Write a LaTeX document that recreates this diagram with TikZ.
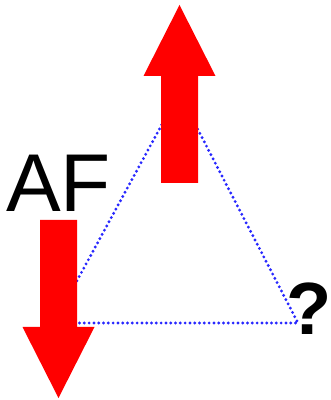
\documentclass[tikz,border=0pt]{standalone}
\usepackage{fontspec}
\setmainfont{Liberation Sans}
\usepackage{tikz}
\usetikzlibrary{positioning,calc}

% one fat red spin arrow; #1 = centre x, #2 = base y, #3 = +1 up / -1 down
\newcommand{\spinarrow}[3]{%
  \fill[spinred] (#1-18.5,#2) -- (#1+18.5,#2) -- (#1+18.5,#2+#3*107)
    -- (#1+36,#2+#3*107) -- (#1,#2+#3*178) -- (#1-36,#2+#3*107)
    -- (#1-18.5,#2+#3*107) -- cycle;}

\definecolor{spinred}{RGB}{255,0,0}
\definecolor{bondblue}{RGB}{40,40,255}

\begin{document}
\begin{tikzpicture}[x=1pt,y=1pt,
  every node/.style={inner sep=0pt,font=\fontsize{82}{82}\selectfont},
  bond/.style={bondblue,line width=3.2pt,line cap=round,dash pattern=on 0pt off 4.8pt}]
\useasboundingbox (0,0) rectangle (331,400);
% triangle of sites
\coordinate (top) at (179,307);
\coordinate (left) at (54,77);
\coordinate (right) at (298,77);
\draw[bond] (left) -- (top) -- (right) -- cycle;
% spins
\spinarrow{179.5}{217}{1}
\spinarrow{58.5}{180}{-1}
% labels
\node[anchor=base west] (af) at (6,188) {AF};
\node[anchor=base west,font=\fontsize{74}{74}\selectfont\bfseries] (q) at (286,65) {?};
\end{tikzpicture}
\end{document}
